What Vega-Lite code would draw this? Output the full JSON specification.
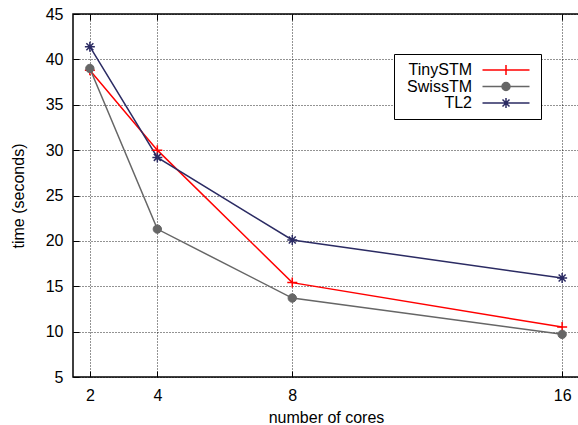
{
  "$schema": "https://vega.github.io/schema/vega-lite/v6.json",
  "width": 506,
  "height": 363,
  "autosize": {"type": "none"},
  "padding": {"left": 73, "top": 14, "right": 0, "bottom": 48},
  "background": "white",
  "config": {
    "font": "Liberation Sans",
    "view": {"stroke": "#000000", "strokeWidth": 1.5},
    "axis": {
      "labelFont": "Liberation Sans",
      "titleFont": "Liberation Sans",
      "labelFontSize": 16,
      "titleFontSize": 16,
      "labelColor": "#000000",
      "titleColor": "#000000",
      "titleFontWeight": "normal",
      "domain": false,
      "tickColor": "#000000",
      "tickWidth": 1,
      "tickSize": -6,
      "labelPadding": 16,
      "grid": true,
      "gridColor": "#000000",
      "gridOpacity": 0.85,
      "gridDash": [1, 2],
      "gridWidth": 1
    },
    "legend": {
      "labelFont": "Liberation Sans",
      "labelFontSize": 16,
      "labelColor": "#000000"
    }
  },
  "data": {
    "values": [
      {"cores": 2, "time": 38.8, "stm": "TinySTM"},
      {"cores": 4, "time": 30.0, "stm": "TinySTM"},
      {"cores": 8, "time": 15.4, "stm": "TinySTM"},
      {"cores": 16, "time": 10.5, "stm": "TinySTM"},
      {"cores": 2, "time": 39.0, "stm": "SwissTM"},
      {"cores": 4, "time": 21.3, "stm": "SwissTM"},
      {"cores": 8, "time": 13.7, "stm": "SwissTM"},
      {"cores": 16, "time": 9.7, "stm": "SwissTM"},
      {"cores": 2, "time": 41.4, "stm": "TL2"},
      {"cores": 4, "time": 29.2, "stm": "TL2"},
      {"cores": 8, "time": 20.1, "stm": "TL2"},
      {"cores": 16, "time": 15.9, "stm": "TL2"}
    ]
  },
  "layer": [
    {
      "mark": {"type": "line", "strokeWidth": 1.5},
      "encoding": {
        "x": {
          "field": "cores", "type": "quantitative",
          "scale": {"domain": [1.5, 16.5], "nice": false, "zero": false},
          "axis": {"values": [2, 4, 8, 16], "title": "number of cores", "titleY": 45, "titleBaseline": "alphabetic"}
        },
        "y": {
          "field": "time", "type": "quantitative",
          "scale": {"domain": [5, 45], "nice": false, "zero": false},
          "axis": {"values": [5, 10, 15, 20, 25, 30, 35, 40, 45], "title": "time (seconds)", "titleX": -55, "titleY": 181.5, "titleBaseline": "middle", "titleAngle": 270}
        },
        "color": {
          "field": "stm", "type": "nominal",
          "scale": {"domain": ["TinySTM", "SwissTM", "TL2"], "range": ["#ff0000", "#666666", "#2b2b63"]},
          "legend": {
            "title": null,
            "orient": "none",
            "legendX": 321,
            "legendY": 40,
            "padding": 8,
            "strokeColor": "#000000",
            "fillColor": "#ffffff",
            "symbolSize": 100,
            "symbolStrokeWidth": 1.5,
            "labelAlign": "right",
            "labelOffset": 54,
            "rowPadding": 0.5,
            "encode": {
              "symbols": {
                "update": {
                  "x": {"value": 104},
                  "shape": {"signal": "datum.value === 'TinySTM' ? 'M-4.7,0L4.7,0M0,-1L0,1' : datum.value === 'SwissTM' ? 'M-4.7,0L4.7,0M-0.8,0A0.8,0.8,0,1,0,0.8,0A0.8,0.8,0,1,0,-0.8,0Z' : 'M-4.7,0L4.7,0M0,-1L0,1M-0.7,-0.7L0.7,0.7M-0.7,0.7L0.7,-0.7'"},
                  "fill": {"scale": "color", "field": "value"},
                  "stroke": {"scale": "color", "field": "value"}
                }
              }
            }
          }
        },
        "order": {"field": "cores", "type": "quantitative"}
      }
    },
    {
      "transform": [{"filter": "datum.stm === 'TinySTM'"}],
      "mark": {"type": "point", "shape": "M-1,0L1,0M0,-1L0,1", "filled": false, "stroke": "#ff0000", "strokeWidth": 1.5, "size": 100, "opacity": 1},
      "encoding": {
        "x": {"field": "cores", "type": "quantitative", "axis": {"orient": "top", "labels": false, "grid": false, "title": null, "values": [2, 4, 8, 16]}},
        "y": {"field": "time", "type": "quantitative"}
      }
    },
    {
      "transform": [{"filter": "datum.stm === 'SwissTM'"}],
      "mark": {"type": "point", "shape": "circle", "filled": true, "fill": "#666666", "stroke": "#666666", "strokeWidth": 1, "size": 70, "opacity": 1},
      "encoding": {
        "x": {"field": "cores", "type": "quantitative", "axis": null},
        "y": {"field": "time", "type": "quantitative"}
      }
    },
    {
      "transform": [{"filter": "datum.stm === 'TL2'"}],
      "mark": {"type": "point", "shape": "M-1,0L1,0M0,-1L0,1M-0.7,-0.7L0.7,0.7M-0.7,0.7L0.7,-0.7", "filled": false, "stroke": "#2b2b63", "strokeWidth": 1.5, "size": 100, "opacity": 1},
      "encoding": {
        "x": {"field": "cores", "type": "quantitative", "axis": null},
        "y": {"field": "time", "type": "quantitative"}
      }
    }
  ],
  "resolve": {"axis": {"x": "independent"}}
}
